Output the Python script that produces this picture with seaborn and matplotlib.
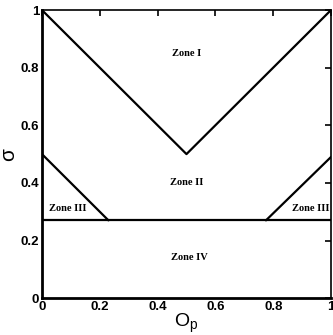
import matplotlib
matplotlib.use("Agg")
import matplotlib.pyplot as plt
import seaborn as sns
import pandas as pd

# boundary lines
v_x = [0.0, 0.5, 1.0]
v_y = [1.0, 0.5, 1.0]
left_x = [0.0, 0.23]
left_y = [0.5, 0.27]
right_x = [0.775, 1.0]
right_y = [0.27, 0.49]
h_x = [0.0, 1.0]
h_y = [0.27, 0.27]

zone_labels = ["Zone I", "Zone II", "Zone III", "Zone III", "Zone IV"]
zone_x = [0.5, 0.5, 0.09, 0.93, 0.51]
zone_y = [0.85, 0.40, 0.31, 0.31, 0.14]

xticks = [0, 0.2, 0.4, 0.6, 0.8, 1]
xticklabels = ["0", "0.2", "0.4", "0.6", "0.8", "1"]
yticks = [0, 0.2, 0.4, 0.6, 0.8, 1]
yticklabels = ["0", "0.2", "0.4", "0.6", "0.8", "1"]

sns.set_style("white")
plt.rcParams.update({"text.color": "black", "axes.labelcolor": "black",
                     "xtick.color": "black", "ytick.color": "black"})
fig = plt.figure(figsize=(3.33, 3.35), dpi=100)
ax = fig.add_axes([0.126, 0.110, 0.868, 0.860])

segs = [(v_x, v_y), (left_x, left_y), (right_x, right_y), (h_x, h_y)]
for i, (xs, ys) in enumerate(segs):
    df = pd.DataFrame({"x": xs, "y": ys})
    sns.lineplot(data=df, x="x", y="y", ax=ax, color="black", lw=1.6, sort=False)

for lab, x, y in zip(zone_labels, zone_x, zone_y):
    ax.text(x, y, lab, ha="center", va="center", fontsize=7.5,
            family="Liberation Serif", fontweight="bold", color="black")

ax.set_xlim(0, 1)
ax.set_ylim(0, 1)
ax.set_xticks(xticks)
ax.set_xticklabels(xticklabels)
ax.set_yticks(yticks)
ax.set_yticklabels(yticklabels)
ax.tick_params(direction="in", length=4, width=1.2, top=True, right=True,
               labelsize=9.5, pad=2, colors="black")
for lab in ax.get_xticklabels() + ax.get_yticklabels():
    lab.set_fontweight("bold")
    lab.set_family("Liberation Sans")
ax.set_xlabel(r"O$_\mathregular{p}$", fontsize=14, family="Liberation Sans",
              labelpad=-1, color="black")
ax.set_ylabel("σ", fontsize=15, family="Liberation Sans", labelpad=2, color="black")
for side in ["left", "bottom"]:
    ax.spines[side].set_linewidth(2)
for side in ["top", "right"]:
    ax.spines[side].set_linewidth(1.2)
for s in ax.spines.values():
    s.set_color("black")

fig.savefig("out.png", dpi=100)
